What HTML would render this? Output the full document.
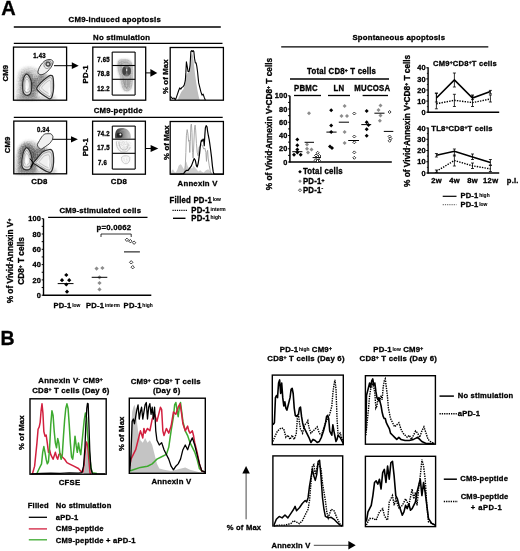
<!DOCTYPE html>
<html><head><meta charset="utf-8"><style>
html,body{margin:0;padding:0;background:#fff;width:520px;height:551px;overflow:hidden}
svg{display:block;filter:blur(0.3px);font-family:"Liberation Sans",sans-serif}
text{stroke:#000;stroke-width:0.3px}
</style></head><body>
<svg width="520" height="551" viewBox="0 0 520 551">
<defs>
<filter id="bl" x="-50%" y="-50%" width="200%" height="200%"><feGaussianBlur stdDeviation="1.5"/></filter>
<filter id="bl2" x="-50%" y="-50%" width="200%" height="200%"><feGaussianBlur stdDeviation="0.7"/></filter>
<filter id="bl3" x="-50%" y="-50%" width="200%" height="200%"><feGaussianBlur stdDeviation="2.5"/></filter>
<filter id="hz" x="-30%" y="-30%" width="160%" height="160%"><feGaussianBlur in="SourceGraphic" stdDeviation="1.6" result="b"/><feTurbulence type="fractalNoise" baseFrequency="0.75" numOctaves="2" seed="7" result="n"/><feColorMatrix in="n" type="matrix" values="0 0 0 0 0  0 0 0 0 0  0 0 0 0 0  0 0 0 1.5 -0.2" result="a"/><feComposite in="b" in2="a" operator="in"/></filter>
</defs>
<rect width="520" height="551" fill="#fff"/>
<text transform="translate(1.3,14.8) scale(1,1.0)" font-size="20.0" text-anchor="start" font-weight="bold" >A</text>
<text transform="translate(114.8,21.8) scale(1,1.02)" font-size="7.8" text-anchor="middle" font-weight="bold"  letter-spacing="0.22">CM9-induced apoptosis</text>
<line x1="13.8" y1="27.0" x2="220.8" y2="27.0" stroke="#000" stroke-width="1.3" />
<text transform="translate(121.6,39.5) scale(1,1.02)" font-size="7.8" text-anchor="middle" font-weight="bold"  letter-spacing="0.22">No stimulation</text>
<line x1="13.8" y1="43.4" x2="222.5" y2="43.4" stroke="#000" stroke-width="1.3" />
<path d="M19,72 C23,66 32,66 38,70 C44,74 46,77 42,82 C38,88 37,95 40,100 L17,100 C16,90 17,80 19,72 Z" fill="#888" opacity="0.23" filter="url(#bl)"/>
<path d="M19,72 C23,66 32,66 38,70 C44,74 46,77 42,82 C38,88 37,95 40,100 L17,100 C16,90 17,80 19,72 Z" fill="#888" opacity="0.35" filter="url(#hz)"/>
<path d="M21,79 C22,71 31,70 33,76 C35,82 37,92 35,99 L21,99 Z" fill="#333" opacity="0.27" filter="url(#bl)"/>
<path d="M21,79 C22,71 31,70 33,76 C35,82 37,92 35,99 L21,99 Z" fill="#333" opacity="0.42" filter="url(#hz)"/>
<path d="M31,82 C36,75 44,72 48,75 L37,93 Z" fill="#444" opacity="0.27" filter="url(#bl)"/>
<path d="M31,82 C36,75 44,72 48,75 L37,93 Z" fill="#444" opacity="0.42" filter="url(#hz)"/>
<path d="M16,96 L56,96 L56,100 L16,100 Z" fill="#999" opacity="0.25" filter="url(#bl)"/>
<path d="M16,96 L56,96 L56,100 L16,100 Z" fill="#999" opacity="0.39" filter="url(#hz)"/>
<path d="M26.70,74.20 C27.35,74.20 28.03,74.72 28.70,75.60 C29.37,76.48 30.20,77.93 30.70,79.50 C31.20,81.07 31.60,83.07 31.70,85.00 C31.80,86.93 31.67,89.50 31.30,91.10 C30.93,92.70 30.43,93.95 29.50,94.60 C28.57,95.25 26.75,95.43 25.70,95.00 C24.65,94.57 23.72,93.63 23.20,92.00 C22.68,90.37 22.58,87.28 22.60,85.20 C22.62,83.12 22.93,81.10 23.30,79.50 C23.67,77.90 24.23,76.48 24.80,75.60 C25.37,74.72 26.05,74.20 26.70,74.20 Z" fill="#dadada" stroke="#2e2e2e" stroke-width="1.2"/>
<path d="M26.80,76.72 C27.29,76.72 27.80,77.11 28.30,77.77 C28.80,78.44 29.43,79.53 29.80,80.70 C30.18,81.88 30.48,83.38 30.55,84.83 C30.63,86.28 30.53,88.20 30.25,89.40 C29.98,90.60 29.60,91.54 28.90,92.02 C28.20,92.51 26.84,92.65 26.05,92.33 C25.26,92.00 24.56,91.30 24.18,90.08 C23.79,88.85 23.71,86.54 23.73,84.97 C23.74,83.41 23.98,81.90 24.25,80.70 C24.53,79.50 24.95,78.44 25.38,77.77 C25.80,77.11 26.31,76.72 26.80,76.72 Z" fill="#e6e6e6" stroke="#6a6a6a" stroke-width="0.6"/>
<path d="M26.90,79.25 C27.23,79.25 27.57,79.51 27.90,79.95 C28.24,80.39 28.65,81.12 28.90,81.90 C29.15,82.68 29.35,83.68 29.40,84.65 C29.45,85.62 29.39,86.90 29.20,87.70 C29.02,88.50 28.77,89.12 28.30,89.45 C27.84,89.77 26.93,89.87 26.40,89.65 C25.88,89.43 25.41,88.97 25.15,88.15 C24.90,87.33 24.85,85.79 24.85,84.75 C24.86,83.71 25.02,82.70 25.20,81.90 C25.39,81.10 25.67,80.39 25.95,79.95 C26.24,79.51 26.58,79.25 26.90,79.25 Z" fill="#f2f2f2" stroke="#8a8a8a" stroke-width="0.5"/>
<path d="M36.70,88.50 C36.79,87.31 39.72,83.88 40.90,82.60 C42.08,81.32 45.71,78.34 46.80,77.50 C47.88,76.66 49.56,75.60 50.20,75.40 C50.84,75.20 51.95,75.45 52.30,75.80 C52.65,76.15 53.05,77.30 53.20,78.40 C53.35,79.50 53.60,83.62 53.60,85.20 C53.60,86.78 53.45,90.43 53.20,91.90 C52.96,93.37 51.94,96.98 51.50,97.80 C51.06,98.62 50.15,99.08 49.40,98.90 C48.65,98.73 46.19,97.01 45.10,96.30 C44.02,95.59 41.08,93.71 40.10,92.80 C39.12,91.89 36.61,89.69 36.70,88.50 Z" fill="#e0e0e0" stroke="#2e2e2e" stroke-width="1.25"/>
<path d="M38.91,88.15 C38.98,87.20 41.33,84.46 42.27,83.43 C43.21,82.40 46.12,80.02 46.99,79.35 C47.86,78.68 49.20,77.83 49.71,77.67 C50.22,77.51 51.11,77.71 51.39,77.99 C51.67,78.27 51.99,79.19 52.11,80.07 C52.23,80.95 52.43,84.25 52.43,85.51 C52.43,86.77 52.31,89.70 52.11,90.87 C51.91,92.05 51.10,94.94 50.75,95.59 C50.40,96.25 49.67,96.61 49.07,96.47 C48.47,96.33 46.50,94.96 45.63,94.39 C44.76,93.82 42.41,92.32 41.63,91.59 C40.85,90.86 38.84,89.10 38.91,88.15 Z" fill="#e8e8e8" stroke="#777" stroke-width="0.55"/>
<path d="M41.67,87.72 C41.72,87.06 43.33,85.18 43.98,84.47 C44.63,83.77 46.63,82.13 47.23,81.67 C47.82,81.20 48.74,80.62 49.10,80.51 C49.45,80.40 50.06,80.54 50.25,80.73 C50.45,80.92 50.66,81.56 50.75,82.16 C50.83,82.76 50.97,85.03 50.97,85.90 C50.97,86.77 50.88,88.78 50.75,89.59 C50.61,90.39 50.06,92.38 49.81,92.83 C49.57,93.28 49.07,93.53 48.66,93.44 C48.25,93.34 46.89,92.40 46.29,92.01 C45.70,91.61 44.08,90.58 43.54,90.08 C43.00,89.58 41.62,88.37 41.67,87.72 Z" fill="#f0f0f0" stroke="#999" stroke-width="0.5"/>
<path d="M37.90,71.90 C37.80,73.03 38.20,73.55 38.90,74.00 C39.60,74.45 40.77,74.95 42.10,74.60 C43.43,74.25 45.40,73.13 46.90,71.90 C48.40,70.67 50.08,68.70 51.10,67.20 C52.12,65.70 52.73,63.97 53.00,62.90 C53.27,61.83 53.20,61.37 52.70,60.80 C52.20,60.23 51.15,59.58 50.00,59.50 C48.85,59.42 47.03,59.73 45.80,60.30 C44.57,60.87 43.65,61.75 42.60,62.90 C41.55,64.05 40.28,65.70 39.50,67.20 C38.72,68.70 38.00,70.77 37.90,71.90 Z" fill="#f0f0f0" stroke="#2a2a2a" stroke-width="0.9"/>
<path d="M44.50,63.00 C45.00,62.17 46.03,61.33 47.00,61.00 C47.97,60.67 49.58,60.58 50.30,61.00 C51.02,61.42 51.35,62.58 51.30,63.50 C51.25,64.42 50.63,65.67 50.00,66.50 C49.37,67.33 48.25,68.25 47.50,68.50 C46.75,68.75 46.08,68.42 45.50,68.00 C44.92,67.58 44.17,66.83 44.00,66.00 C43.83,65.17 44.00,63.83 44.50,63.00 Z" fill="#e6e6e6" stroke="#555" stroke-width="0.6"/>
<circle cx="48.0" cy="64.1" r="2.2" fill="#777" stroke="#222" stroke-width="0.9"/>
<circle cx="48.0" cy="64.1" r="0.9" fill="#fff"/>
<ellipse cx="26.6" cy="88.5" rx="0.9" ry="3.2" fill="#fff"/>
<ellipse cx="49.4" cy="91.5" rx="0.9" ry="4.2" fill="#fafafa"/>
<rect x="13.5" y="47.1" width="53.10" height="53.10" fill="none" stroke="#000" stroke-width="1.3"/>
<text transform="translate(39.5,57.5) scale(1,1.2)" font-size="6.0" text-anchor="middle" font-weight="bold"  letter-spacing="0.22">1.43</text>
<text transform="translate(7.8,73.2) rotate(-90) scale(1,1.02)" font-size="7.8" text-anchor="middle" font-weight="bold"  letter-spacing="0.11">CM9</text>
<line x1="54.0" y1="65.7" x2="72.3" y2="65.7" stroke="#000" stroke-width="1.0" />
<polygon points="71.8,62.300000000000004 78.7,65.7 71.8,69.10000000000001" fill="#000"/>
<path d="M118.5,61 C117.3,66 118.5,72 120.5,76 C121.5,80 121.5,86 123.5,89 C125,91.5 129,91.5 130.8,88.5 C132.5,84 132.3,78 132.3,74 C132.5,69 132.3,65 131,62.5 C129.5,60 126,59.5 123,60 C121,60 119.3,60 118.5,61 Z" fill="#909090" opacity="0.5" filter="url(#bl)"/>
<path d="M118.5,61 C117.3,66 118.5,72 120.5,76 C121.5,80 121.5,86 123.5,89 C125,91.5 129,91.5 130.8,88.5 C132.5,84 132.3,78 132.3,74 C132.5,69 132.3,65 131,62.5 C129.5,60 126,59.5 123,60 C121,60 119.3,60 118.5,61 Z" fill="#808080" opacity="0.6" filter="url(#hz)"/>
<path d="M118.5,61 C117.3,66 118.5,72 120.5,76 C121.5,80 121.5,86 123.5,89 C125,91.5 129,91.5 130.8,88.5 C132.5,84 132.3,78 132.3,74 C132.5,69 132.3,65 131,62.5 C129.5,60 126,59.5 123,60 C121,60 119.3,60 118.5,61 Z" fill="none" stroke="#aaa" stroke-width="0.6"/>
<path d="M120,62 C118.5,63 118.8,66 121,66.5 C123,66 122.5,62.5 120,62 Z" fill="none" stroke="#999" stroke-width="0.6"/>
<path d="M121.5,64 C120.5,69 121.5,74 123,77 C124,82 124.5,87 126.5,88 C128.8,88.5 130,84 130.2,79 C130.5,73 131,67 129.5,64 C127.5,62 123,62 121.5,64 Z" fill="#c4c4c4" opacity="0.6" stroke="#8a8a8a" stroke-width="0.6"/>
<g filter="url(#bl2)"><ellipse cx="126.5" cy="71" rx="4.6" ry="5.6" fill="#6a6a6a" opacity="0.85"/><ellipse cx="124.4" cy="71" rx="1.9" ry="4" fill="#3a3a3a" opacity="0.85"/><ellipse cx="128.9" cy="71" rx="1.8" ry="3.8" fill="#444" opacity="0.85"/></g>
<ellipse cx="126.7" cy="70" rx="0.6" ry="1.3" fill="#e8e8e8"/>
<path d="M124,79 C124,84 125,87.5 126.5,87.5 C128,87.5 128.8,84 128.8,79 M125.6,80 L125.6,85.5 M127.4,80 L127.4,85.5" fill="none" stroke="#8a8a8a" stroke-width="0.6"/>
<rect x="92.8" y="47.1" width="52.90" height="53.10" fill="none" stroke="#000" stroke-width="1.3"/>
<line x1="112.2" y1="52.1" x2="135.1" y2="52.1" stroke="#000" stroke-width="1.1" />
<line x1="112.2" y1="65.5" x2="135.1" y2="65.5" stroke="#000" stroke-width="1.1" />
<line x1="112.2" y1="79.3" x2="135.1" y2="79.3" stroke="#000" stroke-width="1.1" />
<line x1="112.2" y1="95.1" x2="135.1" y2="95.1" stroke="#000" stroke-width="1.1" />
<line x1="112.2" y1="52.1" x2="112.2" y2="95.1" stroke="#000" stroke-width="1.1" />
<line x1="135.1" y1="52.1" x2="135.1" y2="95.1" stroke="#000" stroke-width="1.1" />
<text transform="translate(103.5,62.4) scale(1,1.2)" font-size="6.0" text-anchor="middle" font-weight="bold"  letter-spacing="0.22">7.65</text>
<text transform="translate(103.5,75.7) scale(1,1.2)" font-size="6.0" text-anchor="middle" font-weight="bold"  letter-spacing="0.22">78.8</text>
<text transform="translate(103.5,91.1) scale(1,1.2)" font-size="6.0" text-anchor="middle" font-weight="bold"  letter-spacing="0.22">12.2</text>
<text transform="translate(88.2,74.3) rotate(-90) scale(1,1.02)" font-size="7.8" text-anchor="middle" font-weight="bold"  letter-spacing="0.11">PD-1</text>
<line x1="145.7" y1="72.9" x2="150.9" y2="72.9" stroke="#000" stroke-width="1.0" />
<polygon points="150.4,69.0 157.3,72.9 150.4,76.80000000000001" fill="#000"/>
<polygon points="177.81,100.21 178.60,97.42 179.71,95.19 181.38,91.84 183.61,89.06 184.95,84.04 186.07,75.67 187.52,72.88 189.19,72.33 190.31,65.08 191.20,55.04 192.09,52.81 193.09,56.15 194.21,67.31 195.33,76.23 196.44,84.04 197.56,90.73 198.67,96.30 199.79,100.21" fill="#bdbdbd"/>
<polyline points="170.45,96.30 171.35,97.42 172.46,98.54 174.13,97.98 175.25,99.65 176.36,97.42 177.48,94.07 178.60,90.73 179.71,87.94 180.83,89.06 181.94,87.38 183.06,86.82 184.17,85.15 185.29,80.69 185.85,72.88 186.40,61.73 187.18,66.19 188.08,71.77 189.19,71.21 190.08,65.08 190.86,51.69 191.64,50.58 192.54,51.69 193.09,50.58 193.88,51.69 194.54,58.38 195.33,62.85 196.11,62.85 196.78,66.19 197.56,71.77 198.11,77.34 198.67,82.92 199.79,87.38 200.90,91.84 202.02,95.19 203.13,94.07 204.25,97.42 205.36,100.21" fill="none" stroke="#000" stroke-width="1.1" stroke-linejoin="round"/>
<rect x="170.2" y="47.5" width="53.20" height="52.70" fill="none" stroke="#000" stroke-width="1.3"/>
<text transform="translate(168.2,76.7) rotate(-90) scale(1,1.02)" font-size="7.8" text-anchor="middle" font-weight="bold"  letter-spacing="0.11">% of Max</text>
<text transform="translate(118.2,113.1) scale(1,1.02)" font-size="7.8" text-anchor="middle" font-weight="bold"  letter-spacing="0.22">CM9-peptide</text>
<line x1="13.8" y1="117.4" x2="222.7" y2="117.4" stroke="#000" stroke-width="1.3" />
<path d="M18,150 C21,140 31,138 38,144 C44,148 47,151 42,157 C37,163 36,169 38,174 L16,174 C15,165 16,156 18,150 Z" fill="#888" opacity="0.25" filter="url(#bl)"/>
<path d="M18,150 C21,140 31,138 38,144 C44,148 47,151 42,157 C37,163 36,169 38,174 L16,174 C15,165 16,156 18,150 Z" fill="#888" opacity="0.39" filter="url(#hz)"/>
<path d="M19,151 C21,142 31,141 34,148 C36,156 37,166 35,173 L19,173 Z" fill="#2a2a2a" opacity="0.32" filter="url(#bl)"/>
<path d="M19,151 C21,142 31,141 34,148 C36,156 37,166 35,173 L19,173 Z" fill="#2a2a2a" opacity="0.49" filter="url(#hz)"/>
<path d="M31,153 C36,147 44,146 48,149 L37,165 Z" fill="#383838" opacity="0.32" filter="url(#bl)"/>
<path d="M31,153 C36,147 44,146 48,149 L37,165 Z" fill="#383838" opacity="0.49" filter="url(#hz)"/>
<path d="M16,169 L56,169 L56,174 L16,174 Z" fill="#999" opacity="0.27" filter="url(#bl)"/>
<path d="M16,169 L56,169 L56,174 L16,174 Z" fill="#999" opacity="0.42" filter="url(#hz)"/>
<path d="M26.80,147.60 C27.57,147.87 28.77,149.08 29.60,150.80 C30.43,152.52 31.40,155.45 31.80,157.90 C32.20,160.35 32.32,163.65 32.00,165.50 C31.68,167.35 30.95,168.28 29.90,169.00 C28.85,169.72 26.97,170.10 25.70,169.80 C24.43,169.50 22.93,168.75 22.30,167.20 C21.67,165.65 21.75,162.83 21.90,160.50 C22.05,158.17 22.68,155.08 23.20,153.20 C23.72,151.32 24.40,150.13 25.00,149.20 C25.60,148.27 26.03,147.33 26.80,147.60 Z" fill="#dadada" stroke="#2e2e2e" stroke-width="1.2"/>
<path d="M26.80,150.47 C27.38,150.67 28.28,151.58 28.91,152.87 C29.53,154.16 30.25,156.35 30.55,158.19 C30.86,160.03 30.94,162.50 30.70,163.89 C30.47,165.28 29.92,165.98 29.13,166.52 C28.34,167.05 26.93,167.34 25.98,167.12 C25.03,166.89 23.91,166.33 23.43,165.17 C22.95,164.00 23.02,161.89 23.13,160.14 C23.24,158.39 23.72,156.08 24.11,154.67 C24.49,153.25 25.00,152.37 25.45,151.67 C25.90,150.97 26.23,150.27 26.80,150.47 Z" fill="#e6e6e6" stroke="#6a6a6a" stroke-width="0.6"/>
<path d="M26.81,153.33 C27.19,153.47 27.79,154.08 28.21,154.94 C28.63,155.79 29.11,157.26 29.31,158.49 C29.51,159.71 29.57,161.36 29.41,162.28 C29.25,163.21 28.88,163.68 28.36,164.03 C27.84,164.39 26.89,164.59 26.26,164.44 C25.63,164.28 24.88,163.91 24.56,163.13 C24.24,162.36 24.29,160.95 24.36,159.78 C24.43,158.62 24.75,157.08 25.01,156.13 C25.27,155.19 25.61,154.60 25.91,154.13 C26.21,153.67 26.43,153.20 26.81,153.33 Z" fill="#f2f2f2" stroke="#8a8a8a" stroke-width="0.5"/>
<path d="M33.30,163.00 C33.44,162.28 35.91,159.78 37.00,158.50 C38.09,157.22 41.15,153.05 42.60,152.00 C44.05,150.95 48.31,149.70 49.40,149.50 C50.48,149.30 51.46,149.81 51.90,150.30 C52.34,150.79 53.00,152.32 53.20,153.70 C53.40,155.08 53.71,160.22 53.60,162.10 C53.49,163.98 52.70,168.61 52.30,169.80 C51.90,170.99 50.84,172.10 50.20,172.30 C49.56,172.50 47.88,171.99 46.80,171.50 C45.71,171.01 42.18,168.89 40.90,168.10 C39.62,167.31 36.69,165.29 35.80,164.70 C34.91,164.10 33.16,163.72 33.30,163.00 Z" fill="#e0e0e0" stroke="#2e2e2e" stroke-width="1.25"/>
<path d="M35.76,162.66 C35.87,162.08 37.85,160.09 38.72,159.06 C39.58,158.03 42.04,154.70 43.20,153.86 C44.35,153.02 47.77,152.02 48.64,151.86 C49.50,151.70 50.28,152.11 50.64,152.50 C50.99,152.89 51.52,154.12 51.68,155.22 C51.84,156.32 52.08,160.44 52.00,161.94 C51.91,163.44 51.27,167.15 50.96,168.10 C50.64,169.05 49.79,169.94 49.28,170.10 C48.76,170.26 47.42,169.85 46.56,169.46 C45.69,169.07 42.86,167.37 41.84,166.74 C40.81,166.10 38.47,164.49 37.76,164.02 C37.05,163.54 35.64,163.24 35.76,162.66 Z" fill="#e8e8e8" stroke="#777" stroke-width="0.55"/>
<path d="M38.83,162.23 C38.90,161.83 40.27,160.46 40.86,159.76 C41.46,159.05 43.15,156.76 43.94,156.18 C44.74,155.60 47.09,154.92 47.68,154.81 C48.28,154.70 48.81,154.98 49.06,155.25 C49.30,155.52 49.66,156.36 49.77,157.12 C49.88,157.87 50.05,160.70 49.99,161.74 C49.93,162.77 49.50,165.32 49.28,165.97 C49.06,166.63 48.48,167.24 48.12,167.35 C47.77,167.46 46.85,167.18 46.25,166.91 C45.66,166.64 43.71,165.47 43.01,165.04 C42.30,164.60 40.69,163.49 40.20,163.17 C39.71,162.84 38.75,162.63 38.83,162.23 Z" fill="#f0f0f0" stroke="#999" stroke-width="0.5"/>
<path d="M37.40,144.30 C37.10,145.19 38.07,146.80 38.40,147.20 C38.73,147.60 40.39,149.38 41.30,149.10 C42.21,148.82 48.38,144.58 49.30,143.80 C50.22,143.02 52.10,140.31 52.40,139.70 C52.70,139.09 53.02,136.99 52.90,136.50 C52.77,136.01 51.54,134.02 50.90,133.80 C50.26,133.58 45.94,133.68 45.20,133.90 C44.46,134.12 42.65,135.63 42.00,136.50 C41.35,137.37 37.70,143.41 37.40,144.30 Z" fill="#f0f0f0" stroke="#2a2a2a" stroke-width="0.9"/>
<line x1="33.3" y1="163" x2="30.5" y2="167.5" stroke="#000" stroke-width="1.3" />
<line x1="33.3" y1="163" x2="30" y2="158.5" stroke="#000" stroke-width="1.0" />
<ellipse cx="26.5" cy="161.5" rx="0.9" ry="3.6" fill="#fff"/>
<ellipse cx="48.5" cy="163.5" rx="0.9" ry="4" fill="#fafafa"/>
<rect x="13.8" y="121.1" width="52.80" height="52.70" fill="none" stroke="#000" stroke-width="1.3"/>
<text transform="translate(43.2,131.5) scale(1,1.2)" font-size="6.0" text-anchor="middle" font-weight="bold"  letter-spacing="0.22">0.34</text>
<text transform="translate(10.0,144.9) rotate(-90) scale(1,1.02)" font-size="7.8" text-anchor="middle" font-weight="bold"  letter-spacing="0.11">CM9</text>
<line x1="52.5" y1="139.3" x2="71.5" y2="139.3" stroke="#000" stroke-width="1.0" />
<polygon points="71,136.20000000000002 77.9,139.3 71,142.4" fill="#000"/>
<text transform="translate(39.4,183.9) scale(1,1.02)" font-size="7.8" text-anchor="middle" font-weight="bold"  letter-spacing="0.22">CD8</text>
<path d="M116.2,141 C115.5,146 118,151 122,152.5 C126,153 130,151 130.7,147 C131,143 129,140.5 125,140 C121,139.6 117,139.8 116.2,141 Z" fill="#aaa" opacity="0.45" filter="url(#hz)"/>
<path d="M116.5,141.5 C116,146 118,150.5 122,152 C126,152.5 129.5,150.5 130.2,147 M119,142 C119,146 121,150 124,150 C127,150 128.5,147 128,143.5" fill="none" stroke="#a8a8a8" stroke-width="0.6"/>
<path d="M121.6,157 C121,161 123.5,163.7 126,163.7 C128.5,163.7 130,161 129.8,157.5 C129,155.5 124,155 121.6,157 Z" fill="#bbb" opacity="0.4" filter="url(#hz)"/>
<path d="M121.6,157 C121,161 123.5,163.7 126,163.7 C128.5,163.7 130,161 129.8,157.5 C129,155.5 124,155 121.6,157 Z" fill="none" stroke="#b4b4b4" stroke-width="0.6"/>
<defs><linearGradient id="dome" x1="0" y1="0" x2="1" y2="0"><stop offset="0" stop-color="#3a3a3a"/><stop offset="0.3" stop-color="#606060"/><stop offset="0.62" stop-color="#999"/><stop offset="1" stop-color="#cfcfcf"/></linearGradient></defs>
<g filter="url(#bl2)"><path d="M115.3,138.6 C114.8,134 115.2,131 118,128.8 C121,127.5 125,127.6 127.9,130 C130.5,132.5 131.2,135.5 131.1,138.6 Z" fill="url(#dome)"/></g>
<path d="M119,133 C120,130.5 124,129.8 127,131.5 C129,133 129.6,136 129.3,138.3" fill="none" stroke="#aaa" stroke-width="0.5"/>
<g filter="url(#bl2)"><ellipse cx="119.6" cy="135" rx="3" ry="2.6" fill="#1a1a1a" opacity="0.85"/></g>
<circle cx="120.4" cy="134.6" r="1.0" fill="#fff"/>
<rect x="92.6" y="121.2" width="52.80" height="53.00" fill="none" stroke="#000" stroke-width="1.3"/>
<line x1="112.3" y1="126.1" x2="135.2" y2="126.1" stroke="#000" stroke-width="1.1" />
<line x1="112.3" y1="139.2" x2="135.2" y2="139.2" stroke="#000" stroke-width="1.1" />
<line x1="112.3" y1="153.3" x2="135.2" y2="153.3" stroke="#000" stroke-width="1.1" />
<line x1="112.3" y1="169.1" x2="135.2" y2="169.1" stroke="#000" stroke-width="1.1" />
<line x1="112.3" y1="126.1" x2="112.3" y2="169.1" stroke="#000" stroke-width="1.1" />
<line x1="135.2" y1="126.1" x2="135.2" y2="169.1" stroke="#000" stroke-width="1.1" />
<text transform="translate(103.5,136.4) scale(1,1.2)" font-size="6.0" text-anchor="middle" font-weight="bold"  letter-spacing="0.22">74.2</text>
<text transform="translate(103.5,150.3) scale(1,1.2)" font-size="6.0" text-anchor="middle" font-weight="bold"  letter-spacing="0.22">17.5</text>
<text transform="translate(102.5,164.9) scale(1,1.2)" font-size="6.0" text-anchor="middle" font-weight="bold"  letter-spacing="0.22">7.6</text>
<text transform="translate(88.2,147.1) rotate(-90) scale(1,1.02)" font-size="7.8" text-anchor="middle" font-weight="bold"  letter-spacing="0.11">PD-1</text>
<line x1="145.4" y1="148.5" x2="151.1" y2="148.5" stroke="#000" stroke-width="1.0" />
<polygon points="150.6,145.1 158.3,148.5 150.6,151.9" fill="#000"/>
<text transform="translate(118.9,184.1) scale(1,1.02)" font-size="7.8" text-anchor="middle" font-weight="bold"  letter-spacing="0.22">CD8</text>
<polygon points="170.45,174.21 171.90,170.30 173.02,169.19 174.13,171.42 175.81,172.54 177.48,169.19 178.60,165.84 179.71,164.73 180.83,164.17 181.94,165.84 183.06,168.07 184.17,169.19 185.29,163.61 186.40,161.38 187.52,165.84 188.63,168.07 190.31,166.96 191.98,168.63 193.65,165.84 195.33,168.07 197.00,169.75 198.11,171.42 200.34,170.30 201.46,171.42 203.69,172.54 205.92,170.30 208.15,169.19 210.38,171.42 212.61,173.65 214.84,174.21" fill="#cdcdcd"/>
<polyline points="184.73,174.21 185.29,165.84 185.85,152.46 186.40,135.73 187.18,129.60 187.85,133.50 188.63,141.31 189.19,140.19 189.75,152.46 190.31,141.31 190.86,125.69 191.42,124.02 191.98,132.38 192.54,152.46 193.09,158.04 193.65,148.00 194.54,127.92 195.10,125.13 195.66,130.15 196.44,143.54 197.22,152.46 198.11,155.81 199.23,146.88 200.34,146.88 201.46,144.65 202.58,145.77 203.69,149.11 204.81,148.00 205.92,152.46 206.48,161.38 207.04,152.46 207.59,150.23 208.15,158.04 209.27,165.84 210.38,171.42 211.50,174.21" fill="none" stroke="#a0a0a0" stroke-width="0.9" stroke-linejoin="round"/>
<polyline points="170.45,174.21 179.15,174.21 183.61,173.65 184.73,171.98 186.40,170.30 188.08,170.30 189.75,168.07 191.42,165.84 193.09,161.38 194.21,158.59 195.33,160.27 196.44,165.84 197.22,166.96 198.11,163.61 198.67,160.27 199.56,153.58 200.34,145.77 200.90,142.42 201.46,140.19 202.02,141.31 203.13,139.08 203.69,140.19 204.25,145.77 204.81,135.73 205.36,127.92 206.14,125.69 207.04,126.81 207.59,131.27 208.37,135.73 209.27,140.19 210.38,148.00 211.50,156.92 212.39,165.84 213.17,171.42 213.73,173.65 214.84,174.21 223.43,174.21" fill="none" stroke="#000" stroke-width="1.2" stroke-linejoin="round"/>
<rect x="170.2" y="121.5" width="53.20" height="52.70" fill="none" stroke="#000" stroke-width="1.3"/>
<text transform="translate(169.3,142.6) rotate(-90) scale(1,1.02)" font-size="7.8" text-anchor="middle" font-weight="bold"  letter-spacing="0.11">% of Max</text>
<text transform="translate(197.6,185.8) scale(1,1.02)" font-size="7.8" text-anchor="middle" font-weight="bold"  letter-spacing="0.22">Annexin V</text>
<text transform="translate(169.4,203.3) scale(1,1.18)" font-size="7.8" text-anchor="start" font-weight="bold"  letter-spacing="0.22">Filled PD-1<tspan dx="0.6" baseline-shift="1.5" font-size="4.9" letter-spacing="0.05" style="stroke-width:0.1px">low</tspan></text>
<line x1="172.5" y1="210.4" x2="187.7" y2="210.4" stroke="#000" stroke-width="1.4" stroke-dasharray="1.2,1.0"/>
<text transform="translate(191.3,212.8) scale(1,1.18)" font-size="7.8" text-anchor="start" font-weight="bold"  letter-spacing="0.22">PD-1<tspan dx="0.6" baseline-shift="1.5" font-size="4.9" letter-spacing="0.05" style="stroke-width:0.1px">interm</tspan></text>
<line x1="173" y1="218.3" x2="185.5" y2="218.3" stroke="#000" stroke-width="1.4" />
<text transform="translate(191.3,221.0) scale(1,1.18)" font-size="7.8" text-anchor="start" font-weight="bold"  letter-spacing="0.22">PD-1<tspan dx="0.6" baseline-shift="1.5" font-size="4.9" letter-spacing="0.05" style="stroke-width:0.1px">high</tspan></text>
<text transform="translate(100.3,213.3) scale(1,1.02)" font-size="7.8" text-anchor="middle" font-weight="bold"  letter-spacing="0.22">CM9-stimulated cells</text>
<line x1="48.1" y1="217.4" x2="147.5" y2="217.4" stroke="#000" stroke-width="1.3" />
<line x1="43.5" y1="218.6" x2="43.5" y2="295.8" stroke="#000" stroke-width="1.4" />
<line x1="42.9" y1="295.2" x2="151.3" y2="295.2" stroke="#000" stroke-width="1.4" />
<line x1="41.7" y1="295.2" x2="43.5" y2="295.2" stroke="#000" stroke-width="1.0" />
<text transform="translate(41.2,297.9) scale(1,1.02)" font-size="7.4" text-anchor="end" font-weight="bold"  letter-spacing="0.22">0</text>
<line x1="41.7" y1="287.55" x2="43.5" y2="287.55" stroke="#000" stroke-width="1.0" />
<line x1="41.7" y1="279.9" x2="43.5" y2="279.9" stroke="#000" stroke-width="1.0" />
<text transform="translate(41.2,282.59999999999997) scale(1,1.02)" font-size="7.4" text-anchor="end" font-weight="bold"  letter-spacing="0.22">20</text>
<line x1="41.7" y1="272.25" x2="43.5" y2="272.25" stroke="#000" stroke-width="1.0" />
<line x1="41.7" y1="264.59999999999997" x2="43.5" y2="264.59999999999997" stroke="#000" stroke-width="1.0" />
<text transform="translate(41.2,267.29999999999995) scale(1,1.02)" font-size="7.4" text-anchor="end" font-weight="bold"  letter-spacing="0.22">40</text>
<line x1="41.7" y1="256.95" x2="43.5" y2="256.95" stroke="#000" stroke-width="1.0" />
<line x1="41.7" y1="249.29999999999998" x2="43.5" y2="249.29999999999998" stroke="#000" stroke-width="1.0" />
<text transform="translate(41.2,251.99999999999997) scale(1,1.02)" font-size="7.4" text-anchor="end" font-weight="bold"  letter-spacing="0.22">60</text>
<line x1="41.7" y1="241.64999999999998" x2="43.5" y2="241.64999999999998" stroke="#000" stroke-width="1.0" />
<line x1="41.7" y1="234.0" x2="43.5" y2="234.0" stroke="#000" stroke-width="1.0" />
<text transform="translate(41.2,236.7) scale(1,1.02)" font-size="7.4" text-anchor="end" font-weight="bold"  letter-spacing="0.22">80</text>
<line x1="41.7" y1="226.35" x2="43.5" y2="226.35" stroke="#000" stroke-width="1.0" />
<line x1="41.7" y1="218.7" x2="43.5" y2="218.7" stroke="#000" stroke-width="1.0" />
<text transform="translate(41.2,221.39999999999998) scale(1,1.02)" font-size="7.4" text-anchor="end" font-weight="bold"  letter-spacing="0.22">100</text>
<text transform="translate(13.4,261) rotate(-90) scale(1,1.02)" font-size="8.3" text-anchor="middle" font-weight="bold">% of Vivid<tspan baseline-shift="2.2" font-size="5">-</tspan>Annexin V<tspan baseline-shift="2.2" font-size="5">+</tspan></text>
<text transform="translate(23.6,261) rotate(-90) scale(1,1.02)" font-size="8.3" text-anchor="middle" font-weight="bold">CD8<tspan baseline-shift="2.2" font-size="5">+</tspan> T cells</text>
<text transform="translate(113.9,229.6) scale(1,1.02)" font-size="7.8" text-anchor="middle" font-weight="bold"  letter-spacing="0.22">p=0.0062</text>
<polyline points="101,237 101,234 131.2,234 131.2,237" fill="none" stroke="#000" stroke-width="0.8"/>
<polygon points="66.30,272.90 68.40,275.00 66.30,277.10 64.20,275.00" fill="#000" stroke="none" stroke-width="0"/>
<polygon points="62.00,278.10 64.10,280.20 62.00,282.30 59.90,280.20" fill="#000" stroke="none" stroke-width="0"/>
<polygon points="69.20,278.10 71.30,280.20 69.20,282.30 67.10,280.20" fill="#000" stroke="none" stroke-width="0"/>
<polygon points="66.30,282.40 68.40,284.50 66.30,286.60 64.20,284.50" fill="#000" stroke="none" stroke-width="0"/>
<polygon points="67.00,289.60 69.10,291.70 67.00,293.80 64.90,291.70" fill="#000" stroke="none" stroke-width="0"/>
<line x1="57.7" y1="283.6" x2="73.5" y2="283.6" stroke="#000" stroke-width="1.0" />
<polygon points="96.60,266.50 98.70,268.60 96.60,270.70 94.50,268.60" fill="#8c8c8c" stroke="none" stroke-width="0"/>
<polygon points="102.40,265.90 104.50,268.00 102.40,270.10 100.30,268.00" fill="#8c8c8c" stroke="none" stroke-width="0"/>
<polygon points="99.50,275.20 101.60,277.30 99.50,279.40 97.40,277.30" fill="#8c8c8c" stroke="none" stroke-width="0"/>
<polygon points="99.50,280.90 101.60,283.00 99.50,285.10 97.40,283.00" fill="#8c8c8c" stroke="none" stroke-width="0"/>
<polygon points="99.50,287.30 101.60,289.40 99.50,291.50 97.40,289.40" fill="#8c8c8c" stroke="none" stroke-width="0"/>
<line x1="91.7" y1="277.3" x2="107.3" y2="277.3" stroke="#000" stroke-width="1.0" />
<polygon points="126.90,238.10 128.60,239.80 126.90,241.50 125.20,239.80" fill="#fff" stroke="#000" stroke-width="0.75"/>
<polygon points="130.40,239.50 132.10,241.20 130.40,242.90 128.70,241.20" fill="#fff" stroke="#000" stroke-width="0.75"/>
<polygon points="134.10,241.00 135.80,242.70 134.10,244.40 132.40,242.70" fill="#fff" stroke="#000" stroke-width="0.75"/>
<polygon points="131.20,260.60 132.90,262.30 131.20,264.00 129.50,262.30" fill="#fff" stroke="#000" stroke-width="0.75"/>
<polygon points="132.70,265.50 134.40,267.20 132.70,268.90 131.00,267.20" fill="#fff" stroke="#000" stroke-width="0.75"/>
<line x1="124" y1="251.9" x2="139.9" y2="251.9" stroke="#000" stroke-width="1.0" />
<text transform="translate(53.4,308.1) scale(1,1.02)" font-size="7.6" text-anchor="start" font-weight="bold"  letter-spacing="0.22">PD-1<tspan dx="0.6" baseline-shift="1.5" font-size="4.9" letter-spacing="0.05" style="stroke-width:0.1px">low</tspan></text>
<text transform="translate(86,308.1) scale(1,1.02)" font-size="7.6" text-anchor="start" font-weight="bold"  letter-spacing="0.22">PD-1<tspan dx="0.6" baseline-shift="1.5" font-size="4.9" letter-spacing="0.05" style="stroke-width:0.1px">interm</tspan></text>
<text transform="translate(123.6,308.1) scale(1,1.02)" font-size="7.6" text-anchor="start" font-weight="bold"  letter-spacing="0.22">PD-1<tspan dx="0.6" baseline-shift="1.5" font-size="4.9" letter-spacing="0.05" style="stroke-width:0.1px">high</tspan></text>
<text transform="translate(398.8,39.6) scale(1,1.02)" font-size="7.8" text-anchor="middle" font-weight="bold"  letter-spacing="0.22">Spontaneous apoptosis</text>
<line x1="281.2" y1="46.8" x2="488.3" y2="46.8" stroke="#000" stroke-width="1.3" />
<text transform="translate(272.0,124) rotate(-90) scale(1,1.02)" font-size="8.3" text-anchor="middle" font-weight="bold">% of Vivid<tspan baseline-shift="2.2" font-size="5">-</tspan>Annexin V<tspan baseline-shift="2.2" font-size="5">+</tspan>CD8<tspan baseline-shift="2.2" font-size="5">+</tspan> T cells</text>
<text transform="translate(341.6,74.3) scale(1,1.2)" font-size="7.8" text-anchor="middle" font-weight="bold"  letter-spacing="0.22">Total CD8<tspan baseline-shift="2.2" font-size="5">+</tspan> T cells</text>
<line x1="290" y1="79" x2="389" y2="79" stroke="#000" stroke-width="1.3" />
<text transform="translate(306,90.7) scale(1,1.2)" font-size="7.8" text-anchor="middle" font-weight="bold"  letter-spacing="0.22">PBMC</text>
<text transform="translate(339,90.7) scale(1,1.2)" font-size="7.8" text-anchor="middle" font-weight="bold"  letter-spacing="0.22">LN</text>
<text transform="translate(372.3,90.7) scale(1,1.2)" font-size="7.8" text-anchor="middle" font-weight="bold"  letter-spacing="0.22">MUCOSA</text>
<line x1="294" y1="95.5" x2="321" y2="95.5" stroke="#000" stroke-width="1.3" />
<line x1="328" y1="95.5" x2="350" y2="95.5" stroke="#000" stroke-width="1.3" />
<line x1="362.6" y1="95.5" x2="388" y2="95.5" stroke="#000" stroke-width="1.3" />
<line x1="289.9" y1="95.8" x2="289.9" y2="162.6" stroke="#000" stroke-width="1.5" />
<line x1="289.29999999999995" y1="162" x2="391.8" y2="162" stroke="#000" stroke-width="1.4" />
<line x1="288.09999999999997" y1="162.0" x2="289.9" y2="162.0" stroke="#000" stroke-width="1.0" />
<text transform="translate(287.7,164.6) scale(1,1.02)" font-size="7.4" text-anchor="end" font-weight="bold"  letter-spacing="0.22">0</text>
<line x1="288.09999999999997" y1="155.38" x2="289.9" y2="155.38" stroke="#000" stroke-width="1.0" />
<line x1="288.09999999999997" y1="148.76" x2="289.9" y2="148.76" stroke="#000" stroke-width="1.0" />
<text transform="translate(287.7,151.35999999999999) scale(1,1.02)" font-size="7.4" text-anchor="end" font-weight="bold"  letter-spacing="0.22">20</text>
<line x1="288.09999999999997" y1="142.14" x2="289.9" y2="142.14" stroke="#000" stroke-width="1.0" />
<line x1="288.09999999999997" y1="135.52" x2="289.9" y2="135.52" stroke="#000" stroke-width="1.0" />
<text transform="translate(287.7,138.12) scale(1,1.02)" font-size="7.4" text-anchor="end" font-weight="bold"  letter-spacing="0.22">40</text>
<line x1="288.09999999999997" y1="128.9" x2="289.9" y2="128.9" stroke="#000" stroke-width="1.0" />
<line x1="288.09999999999997" y1="122.28" x2="289.9" y2="122.28" stroke="#000" stroke-width="1.0" />
<text transform="translate(287.7,124.88) scale(1,1.02)" font-size="7.4" text-anchor="end" font-weight="bold"  letter-spacing="0.22">60</text>
<line x1="288.09999999999997" y1="115.66" x2="289.9" y2="115.66" stroke="#000" stroke-width="1.0" />
<line x1="288.09999999999997" y1="109.03999999999999" x2="289.9" y2="109.03999999999999" stroke="#000" stroke-width="1.0" />
<text transform="translate(287.7,111.63999999999999) scale(1,1.02)" font-size="7.4" text-anchor="end" font-weight="bold"  letter-spacing="0.22">80</text>
<line x1="288.09999999999997" y1="102.41999999999999" x2="289.9" y2="102.41999999999999" stroke="#000" stroke-width="1.0" />
<line x1="288.09999999999997" y1="95.8" x2="289.9" y2="95.8" stroke="#000" stroke-width="1.0" />
<text transform="translate(287.7,98.39999999999999) scale(1,1.02)" font-size="7.4" text-anchor="end" font-weight="bold"  letter-spacing="0.22">100</text>
<polygon points="297.30,137.40 299.30,139.40 297.30,141.40 295.30,139.40" fill="#000" stroke="none" stroke-width="0"/>
<polygon points="297.30,143.20 299.30,145.20 297.30,147.20 295.30,145.20" fill="#000" stroke="none" stroke-width="0"/>
<polygon points="297.30,147.60 299.30,149.60 297.30,151.60 295.30,149.60" fill="#000" stroke="none" stroke-width="0"/>
<polygon points="294.00,152.70 296.00,154.70 294.00,156.70 292.00,154.70" fill="#000" stroke="none" stroke-width="0"/>
<polygon points="300.70,152.70 302.70,154.70 300.70,156.70 298.70,154.70" fill="#000" stroke="none" stroke-width="0"/>
<polygon points="297.30,150.50 299.30,152.50 297.30,154.50 295.30,152.50" fill="#000" stroke="none" stroke-width="0"/>
<line x1="292.3" y1="151.7" x2="302.4" y2="151.7" stroke="#000" stroke-width="1.0" />
<polygon points="309.00,111.20 311.00,113.20 309.00,115.20 307.00,113.20" fill="#8c8c8c" stroke="none" stroke-width="0"/>
<polygon points="307.00,142.50 309.00,144.50 307.00,146.50 305.00,144.50" fill="#8c8c8c" stroke="none" stroke-width="0"/>
<polygon points="307.00,146.80 309.00,148.80 307.00,150.80 305.00,148.80" fill="#8c8c8c" stroke="none" stroke-width="0"/>
<polygon points="311.50,147.60 313.50,149.60 311.50,151.60 309.50,149.60" fill="#8c8c8c" stroke="none" stroke-width="0"/>
<polygon points="308.00,150.50 310.00,152.50 308.00,154.50 306.00,152.50" fill="#8c8c8c" stroke="none" stroke-width="0"/>
<line x1="304.6" y1="142.3" x2="314" y2="142.3" stroke="#000" stroke-width="1.0" />
<polygon points="317.70,151.30 319.20,152.80 317.70,154.30 316.20,152.80" fill="#fff" stroke="#000" stroke-width="0.75"/>
<polygon points="316.00,154.00 317.50,155.50 316.00,157.00 314.50,155.50" fill="#fff" stroke="#000" stroke-width="0.75"/>
<polygon points="319.50,154.50 321.00,156.00 319.50,157.50 318.00,156.00" fill="#fff" stroke="#000" stroke-width="0.75"/>
<polygon points="317.70,157.00 319.20,158.50 317.70,160.00 316.20,158.50" fill="#fff" stroke="#000" stroke-width="0.75"/>
<polygon points="315.50,158.80 317.00,160.30 315.50,161.80 314.00,160.30" fill="#fff" stroke="#000" stroke-width="0.75"/>
<polygon points="319.00,159.00 320.50,160.50 319.00,162.00 317.50,160.50" fill="#fff" stroke="#000" stroke-width="0.75"/>
<polygon points="317.50,159.50 319.00,161.00 317.50,162.50 316.00,161.00" fill="#fff" stroke="#000" stroke-width="0.75"/>
<line x1="312.6" y1="157.6" x2="321" y2="157.6" stroke="#000" stroke-width="1.0" />
<polygon points="331.20,108.30 333.20,110.30 331.20,112.30 329.20,110.30" fill="#000" stroke="none" stroke-width="0"/>
<polygon points="331.20,123.60 333.20,125.60 331.20,127.60 329.20,125.60" fill="#000" stroke="none" stroke-width="0"/>
<polygon points="331.20,130.10 333.20,132.10 331.20,134.10 329.20,132.10" fill="#000" stroke="none" stroke-width="0"/>
<polygon points="330.00,144.50 332.00,146.50 330.00,148.50 328.00,146.50" fill="#000" stroke="none" stroke-width="0"/>
<polygon points="332.00,146.00 334.00,148.00 332.00,150.00 330.00,148.00" fill="#000" stroke="none" stroke-width="0"/>
<line x1="326.4" y1="132.1" x2="336.6" y2="132.1" stroke="#000" stroke-width="1.0" />
<polygon points="344.60,104.00 346.60,106.00 344.60,108.00 342.60,106.00" fill="#8c8c8c" stroke="none" stroke-width="0"/>
<polygon points="341.50,114.10 343.50,116.10 341.50,118.10 339.50,116.10" fill="#8c8c8c" stroke="none" stroke-width="0"/>
<polygon points="347.00,114.10 349.00,116.10 347.00,118.10 345.00,116.10" fill="#8c8c8c" stroke="none" stroke-width="0"/>
<polygon points="344.60,130.10 346.60,132.10 344.60,134.10 342.60,132.10" fill="#8c8c8c" stroke="none" stroke-width="0"/>
<polygon points="344.60,141.00 346.60,143.00 344.60,145.00 342.60,143.00" fill="#8c8c8c" stroke="none" stroke-width="0"/>
<line x1="338.8" y1="122.2" x2="349" y2="122.2" stroke="#000" stroke-width="1.0" />
<polygon points="354.30,112.00 355.80,113.50 354.30,115.00 352.80,113.50" fill="#fff" stroke="#000" stroke-width="0.75"/>
<polygon points="354.30,135.00 355.80,136.50 354.30,138.00 352.80,136.50" fill="#fff" stroke="#000" stroke-width="0.75"/>
<polygon points="354.30,140.80 355.80,142.30 354.30,143.80 352.80,142.30" fill="#fff" stroke="#000" stroke-width="0.75"/>
<polygon points="354.30,150.90 355.80,152.40 354.30,153.90 352.80,152.40" fill="#fff" stroke="#000" stroke-width="0.75"/>
<polygon points="354.30,156.30 355.80,157.80 354.30,159.30 352.80,157.80" fill="#fff" stroke="#000" stroke-width="0.75"/>
<line x1="348.2" y1="140.5" x2="359" y2="140.5" stroke="#000" stroke-width="1.0" />
<polygon points="366.70,109.00 368.70,111.00 366.70,113.00 364.70,111.00" fill="#000" stroke="none" stroke-width="0"/>
<polygon points="366.70,120.20 368.70,122.20 366.70,124.20 364.70,122.20" fill="#000" stroke="none" stroke-width="0"/>
<polygon points="368.50,123.10 370.50,125.10 368.50,127.10 366.50,125.10" fill="#000" stroke="none" stroke-width="0"/>
<polygon points="366.70,127.20 368.70,129.20 366.70,131.20 364.70,129.20" fill="#000" stroke="none" stroke-width="0"/>
<polygon points="366.70,133.70 368.70,135.70 366.70,137.70 364.70,135.70" fill="#000" stroke="none" stroke-width="0"/>
<line x1="361.3" y1="124.6" x2="371.2" y2="124.6" stroke="#000" stroke-width="1.0" />
<polygon points="380.50,103.50 382.50,105.50 380.50,107.50 378.50,105.50" fill="#8c8c8c" stroke="none" stroke-width="0"/>
<polygon points="378.50,108.00 380.50,110.00 378.50,112.00 376.50,110.00" fill="#8c8c8c" stroke="none" stroke-width="0"/>
<polygon points="380.50,113.40 382.50,115.40 380.50,117.40 378.50,115.40" fill="#8c8c8c" stroke="none" stroke-width="0"/>
<polygon points="379.90,118.80 381.90,120.80 379.90,122.80 377.90,120.80" fill="#8c8c8c" stroke="none" stroke-width="0"/>
<line x1="374.4" y1="113.2" x2="384.5" y2="113.2" stroke="#000" stroke-width="1.0" />
<polygon points="389.60,110.50 391.10,112.00 389.60,113.50 388.10,112.00" fill="#fff" stroke="#000" stroke-width="0.75"/>
<polygon points="389.60,135.00 391.10,136.50 389.60,138.00 388.10,136.50" fill="#fff" stroke="#000" stroke-width="0.75"/>
<polygon points="390.50,137.10 392.00,138.60 390.50,140.10 389.00,138.60" fill="#fff" stroke="#000" stroke-width="0.75"/>
<polygon points="389.60,139.30 391.10,140.80 389.60,142.30 388.10,140.80" fill="#fff" stroke="#000" stroke-width="0.75"/>
<line x1="383.8" y1="131.4" x2="393.3" y2="131.4" stroke="#000" stroke-width="1.0" />
<polygon points="300.00,169.90 301.80,171.70 300.00,173.50 298.20,171.70" fill="#000" stroke="none" stroke-width="0"/>
<text transform="translate(302.9,174.4) scale(1,1.22)" font-size="7.8" text-anchor="start" font-weight="bold"  letter-spacing="0.22">Total cells</text>
<polygon points="300.00,179.50 301.80,181.30 300.00,183.10 298.20,181.30" fill="#8c8c8c" stroke="none" stroke-width="0"/>
<text transform="translate(302.9,183.9) scale(1,1.22)" font-size="7.8" text-anchor="start" font-weight="bold"  letter-spacing="0.22">PD-1<tspan baseline-shift="2.2" font-size="5">+</tspan></text>
<polygon points="300.00,188.70 301.50,190.20 300.00,191.70 298.50,190.20" fill="#fff" stroke="#000" stroke-width="0.75"/>
<text transform="translate(302.9,192.6) scale(1,1.22)" font-size="7.8" text-anchor="start" font-weight="bold"  letter-spacing="0.22">PD-1<tspan baseline-shift="2.2" font-size="5">-</tspan></text>
<text transform="translate(410.2,120.9) rotate(-90) scale(1,1.02)" font-size="8.3" text-anchor="middle" font-weight="bold">% of Vivid<tspan baseline-shift="2.2" font-size="5">-</tspan>Annexin V<tspan baseline-shift="2.2" font-size="5">+</tspan>CD8<tspan baseline-shift="2.2" font-size="5">+</tspan> T cells</text>
<line x1="428.1" y1="67.3" x2="428.1" y2="112.7" stroke="#000" stroke-width="1.4" />
<line x1="427.5" y1="112.2" x2="499.2" y2="112.2" stroke="#000" stroke-width="1.4" />
<line x1="426.3" y1="67.8" x2="428.1" y2="67.8" stroke="#000" stroke-width="1.0" />
<text transform="translate(425.90000000000003,70.39999999999999) scale(1,1.02)" font-size="7.4" text-anchor="end" font-weight="bold"  letter-spacing="0.22">40</text>
<line x1="426.3" y1="78.9" x2="428.1" y2="78.9" stroke="#000" stroke-width="1.0" />
<text transform="translate(425.90000000000003,81.5) scale(1,1.02)" font-size="7.4" text-anchor="end" font-weight="bold"  letter-spacing="0.22">30</text>
<line x1="426.3" y1="90.0" x2="428.1" y2="90.0" stroke="#000" stroke-width="1.0" />
<text transform="translate(425.90000000000003,92.6) scale(1,1.02)" font-size="7.4" text-anchor="end" font-weight="bold"  letter-spacing="0.22">20</text>
<line x1="426.3" y1="101.1" x2="428.1" y2="101.1" stroke="#000" stroke-width="1.0" />
<text transform="translate(425.90000000000003,103.69999999999999) scale(1,1.02)" font-size="7.4" text-anchor="end" font-weight="bold"  letter-spacing="0.22">10</text>
<line x1="426.3" y1="112.2" x2="428.1" y2="112.2" stroke="#000" stroke-width="1.0" />
<text transform="translate(425.90000000000003,114.8) scale(1,1.02)" font-size="7.4" text-anchor="end" font-weight="bold"  letter-spacing="0.22">0</text>
<line x1="426.90000000000003" y1="73.35" x2="428.1" y2="73.35" stroke="#000" stroke-width="0.8" />
<line x1="426.90000000000003" y1="84.45" x2="428.1" y2="84.45" stroke="#000" stroke-width="0.8" />
<line x1="426.90000000000003" y1="95.55" x2="428.1" y2="95.55" stroke="#000" stroke-width="0.8" />
<line x1="426.90000000000003" y1="106.65" x2="428.1" y2="106.65" stroke="#000" stroke-width="0.8" />
<text transform="translate(465,65.8) scale(1,1.02)" font-size="7.6" text-anchor="middle" font-weight="bold"  letter-spacing="0.22">CM9<tspan baseline-shift="2.2" font-size="5">+</tspan>CD8<tspan baseline-shift="2.2" font-size="5">+</tspan>T cells</text>
<line x1="436.4" y1="93.4" x2="436.4" y2="102" stroke="#000" stroke-width="0.8" />
<line x1="434.9" y1="93.4" x2="437.9" y2="93.4" stroke="#000" stroke-width="0.8" />
<line x1="434.9" y1="102" x2="437.9" y2="102" stroke="#000" stroke-width="0.8" />
<line x1="454.4" y1="73" x2="454.4" y2="87" stroke="#000" stroke-width="0.8" />
<line x1="452.9" y1="73" x2="455.9" y2="73" stroke="#000" stroke-width="0.8" />
<line x1="452.9" y1="87" x2="455.9" y2="87" stroke="#000" stroke-width="0.8" />
<line x1="472.5" y1="95" x2="472.5" y2="99.6" stroke="#000" stroke-width="0.8" />
<line x1="471.0" y1="95" x2="474.0" y2="95" stroke="#000" stroke-width="0.8" />
<line x1="471.0" y1="99.6" x2="474.0" y2="99.6" stroke="#000" stroke-width="0.8" />
<line x1="490.4" y1="90.4" x2="490.4" y2="93.8" stroke="#000" stroke-width="0.8" />
<line x1="488.9" y1="90.4" x2="491.9" y2="90.4" stroke="#000" stroke-width="0.8" />
<line x1="488.9" y1="93.8" x2="491.9" y2="93.8" stroke="#000" stroke-width="0.8" />
<line x1="436.4" y1="93" x2="436.4" y2="108.8" stroke="#000" stroke-width="0.8" />
<line x1="434.9" y1="93" x2="437.9" y2="93" stroke="#000" stroke-width="0.8" />
<line x1="434.9" y1="108.8" x2="437.9" y2="108.8" stroke="#000" stroke-width="0.8" />
<line x1="454.4" y1="94.3" x2="454.4" y2="106.5" stroke="#000" stroke-width="0.8" />
<line x1="452.9" y1="94.3" x2="455.9" y2="94.3" stroke="#000" stroke-width="0.8" />
<line x1="452.9" y1="106.5" x2="455.9" y2="106.5" stroke="#000" stroke-width="0.8" />
<line x1="472.5" y1="96" x2="472.5" y2="106.5" stroke="#000" stroke-width="0.8" />
<line x1="471.0" y1="96" x2="474.0" y2="96" stroke="#000" stroke-width="0.8" />
<line x1="471.0" y1="106.5" x2="474.0" y2="106.5" stroke="#000" stroke-width="0.8" />
<line x1="490.4" y1="95" x2="490.4" y2="102" stroke="#000" stroke-width="0.8" />
<line x1="488.9" y1="95" x2="491.9" y2="95" stroke="#000" stroke-width="0.8" />
<line x1="488.9" y1="102" x2="491.9" y2="102" stroke="#000" stroke-width="0.8" />
<polyline points="436.4,98 454.4,80 472.5,98 490.4,91.5" fill="none" stroke="#000" stroke-width="1.6"/>
<polyline points="436.4,103.8 454.4,100.3 472.5,102.6 490.4,99" fill="none" stroke="#000" stroke-width="1.4" stroke-dasharray="1.4,1.2"/>
<line x1="428.1" y1="127.5" x2="428.1" y2="173.5" stroke="#000" stroke-width="1.4" />
<line x1="427.5" y1="173" x2="499.2" y2="173" stroke="#000" stroke-width="1.4" />
<line x1="426.3" y1="128.0" x2="428.1" y2="128.0" stroke="#000" stroke-width="1.0" />
<text transform="translate(425.90000000000003,130.6) scale(1,1.02)" font-size="7.4" text-anchor="end" font-weight="bold"  letter-spacing="0.22">40</text>
<line x1="426.3" y1="139.25" x2="428.1" y2="139.25" stroke="#000" stroke-width="1.0" />
<text transform="translate(425.90000000000003,141.85) scale(1,1.02)" font-size="7.4" text-anchor="end" font-weight="bold"  letter-spacing="0.22">30</text>
<line x1="426.3" y1="150.5" x2="428.1" y2="150.5" stroke="#000" stroke-width="1.0" />
<text transform="translate(425.90000000000003,153.1) scale(1,1.02)" font-size="7.4" text-anchor="end" font-weight="bold"  letter-spacing="0.22">20</text>
<line x1="426.3" y1="161.75" x2="428.1" y2="161.75" stroke="#000" stroke-width="1.0" />
<text transform="translate(425.90000000000003,164.35) scale(1,1.02)" font-size="7.4" text-anchor="end" font-weight="bold"  letter-spacing="0.22">10</text>
<line x1="426.3" y1="173.0" x2="428.1" y2="173.0" stroke="#000" stroke-width="1.0" />
<text transform="translate(425.90000000000003,175.6) scale(1,1.02)" font-size="7.4" text-anchor="end" font-weight="bold"  letter-spacing="0.22">0</text>
<line x1="426.90000000000003" y1="133.625" x2="428.1" y2="133.625" stroke="#000" stroke-width="0.8" />
<line x1="426.90000000000003" y1="144.875" x2="428.1" y2="144.875" stroke="#000" stroke-width="0.8" />
<line x1="426.90000000000003" y1="156.125" x2="428.1" y2="156.125" stroke="#000" stroke-width="0.8" />
<line x1="426.90000000000003" y1="167.375" x2="428.1" y2="167.375" stroke="#000" stroke-width="0.8" />
<text transform="translate(462,130.6) scale(1,1.02)" font-size="7.6" text-anchor="middle" font-weight="bold"  letter-spacing="0.22">TL8<tspan baseline-shift="2.2" font-size="5">+</tspan>CD8<tspan baseline-shift="2.2" font-size="5">+</tspan>T cells</text>
<line x1="436.4" y1="153.5" x2="436.4" y2="157" stroke="#000" stroke-width="0.8" />
<line x1="434.9" y1="153.5" x2="437.9" y2="153.5" stroke="#000" stroke-width="0.8" />
<line x1="434.9" y1="157" x2="437.9" y2="157" stroke="#000" stroke-width="0.8" />
<line x1="454.4" y1="149" x2="454.4" y2="156" stroke="#000" stroke-width="0.8" />
<line x1="452.9" y1="149" x2="455.9" y2="149" stroke="#000" stroke-width="0.8" />
<line x1="452.9" y1="156" x2="455.9" y2="156" stroke="#000" stroke-width="0.8" />
<line x1="472.5" y1="154" x2="472.5" y2="159.5" stroke="#000" stroke-width="0.8" />
<line x1="471.0" y1="154" x2="474.0" y2="154" stroke="#000" stroke-width="0.8" />
<line x1="471.0" y1="159.5" x2="474.0" y2="159.5" stroke="#000" stroke-width="0.8" />
<line x1="490.4" y1="159.5" x2="490.4" y2="165" stroke="#000" stroke-width="0.8" />
<line x1="488.9" y1="159.5" x2="491.9" y2="159.5" stroke="#000" stroke-width="0.8" />
<line x1="488.9" y1="165" x2="491.9" y2="165" stroke="#000" stroke-width="0.8" />
<line x1="436.4" y1="170" x2="436.4" y2="172.5" stroke="#000" stroke-width="0.8" />
<line x1="434.9" y1="170" x2="437.9" y2="170" stroke="#000" stroke-width="0.8" />
<line x1="434.9" y1="172.5" x2="437.9" y2="172.5" stroke="#000" stroke-width="0.8" />
<line x1="454.4" y1="155" x2="454.4" y2="166" stroke="#000" stroke-width="0.8" />
<line x1="452.9" y1="155" x2="455.9" y2="155" stroke="#000" stroke-width="0.8" />
<line x1="452.9" y1="166" x2="455.9" y2="166" stroke="#000" stroke-width="0.8" />
<line x1="472.5" y1="163" x2="472.5" y2="168.5" stroke="#000" stroke-width="0.8" />
<line x1="471.0" y1="163" x2="474.0" y2="163" stroke="#000" stroke-width="0.8" />
<line x1="471.0" y1="168.5" x2="474.0" y2="168.5" stroke="#000" stroke-width="0.8" />
<line x1="490.4" y1="165.5" x2="490.4" y2="171.5" stroke="#000" stroke-width="0.8" />
<line x1="488.9" y1="165.5" x2="491.9" y2="165.5" stroke="#000" stroke-width="0.8" />
<line x1="488.9" y1="171.5" x2="491.9" y2="171.5" stroke="#000" stroke-width="0.8" />
<polyline points="436.4,155.2 454.4,151.3 472.5,156.9 490.4,162.4" fill="none" stroke="#000" stroke-width="1.6"/>
<polyline points="436.4,171.3 454.4,160.5 472.5,165.8 490.4,168.9" fill="none" stroke="#000" stroke-width="1.4" stroke-dasharray="1.4,1.2"/>
<text transform="translate(436.7,182.6) scale(1,1.02)" font-size="7.6" text-anchor="middle" font-weight="bold" letter-spacing="0.4" letter-spacing="0.22">2w</text>
<text transform="translate(454.7,182.6) scale(1,1.02)" font-size="7.6" text-anchor="middle" font-weight="bold" letter-spacing="0.4" letter-spacing="0.22">4w</text>
<text transform="translate(472.7,182.6) scale(1,1.02)" font-size="7.6" text-anchor="middle" font-weight="bold" letter-spacing="0.4" letter-spacing="0.22">8w</text>
<text transform="translate(490.7,182.6) scale(1,1.02)" font-size="7.6" text-anchor="middle" font-weight="bold" letter-spacing="0.4" letter-spacing="0.22">12w</text>
<text transform="translate(506.8,182.6) scale(1,1.02)" font-size="7.6" text-anchor="start" font-weight="bold"  letter-spacing="0.22">p.i.</text>
<line x1="442.7" y1="196.3" x2="456.5" y2="196.3" stroke="#000" stroke-width="1.2" />
<text transform="translate(460.4,198.4) scale(1,1.02)" font-size="7.6" text-anchor="start" font-weight="bold"  letter-spacing="0.22">PD-1<tspan dx="0.6" baseline-shift="1.5" font-size="4.9" letter-spacing="0.05" style="stroke-width:0.1px">high</tspan></text>
<line x1="442.7" y1="204.6" x2="456.5" y2="204.6" stroke="#777" stroke-width="1.2" stroke-dasharray="1.2,1.0"/>
<text transform="translate(460.4,207.3) scale(1,1.02)" font-size="7.6" text-anchor="start" font-weight="bold"  letter-spacing="0.22">PD-1<tspan dx="0.6" baseline-shift="1.5" font-size="4.9" letter-spacing="0.05" style="stroke-width:0.1px">low</tspan></text>
<text transform="translate(0.6,344.9) scale(1,1.0)" font-size="19.5" text-anchor="start" font-weight="bold" >B</text>
<text transform="translate(70.6,383.4) scale(1,1.02)" font-size="7.8" text-anchor="middle" font-weight="bold"  letter-spacing="0.22">Annexin V<tspan baseline-shift="2.2" font-size="5">-</tspan> CM9<tspan baseline-shift="2.2" font-size="5">+</tspan></text>
<text transform="translate(70.9,392.8) scale(1,1.02)" font-size="7.8" text-anchor="middle" font-weight="bold"  letter-spacing="0.22">CD8<tspan baseline-shift="2.2" font-size="5">+</tspan> T cells (Day 6)</text>
<polygon points="83.54,474.24 84.93,466.16 85.85,456.93 86.78,445.39 87.70,441.93 88.62,445.39 89.55,459.24 90.47,468.47 91.39,474.24" fill="#b8b8b8"/>
<polyline points="32.31,474.24 34.62,466.16 36.00,452.31 36.93,443.08 38.08,429.23 39.23,426.93 40.16,422.31 41.08,410.77 42.00,403.85 42.93,413.08 43.85,431.54 45.00,436.16 46.16,435.00 47.31,443.08 48.47,452.31 49.62,450.00 50.77,454.62 53.08,459.24 55.39,452.31 56.54,456.93 57.70,459.24 58.85,454.62 60.00,453.47 62.31,456.93 64.62,459.24 66.93,462.70 69.24,463.85 73.85,466.16 78.47,468.47 80.78,471.24 83.08,471.93 84.24,463.85 85.39,450.00 86.55,441.93 87.70,445.39 88.85,459.24 90.01,473.08 91.16,474.24" fill="none" stroke="#d2203f" stroke-width="1.5" stroke-linejoin="round"/>
<polyline points="36.93,473.54 39.23,468.47 41.54,463.85 42.70,452.31 43.85,446.54 45.00,452.31 46.16,459.24 47.31,463.85 48.47,461.54 49.62,447.70 50.77,424.62 51.93,410.77 53.08,415.39 54.23,431.54 55.39,443.08 56.54,447.70 57.70,438.47 58.85,443.08 60.00,454.62 61.16,459.24 62.31,454.62 63.47,436.16 64.62,420.00 65.77,408.46 66.93,403.85 68.08,408.46 69.24,424.62 70.39,443.08 71.54,456.93 72.70,459.24 73.85,450.00 75.01,436.16 76.16,445.39 77.31,452.31 78.47,443.08 79.62,450.00 80.78,454.62 81.93,443.08 83.08,431.54 84.24,420.00 85.39,413.08 86.55,417.69 87.70,436.16 88.85,447.70 90.01,459.24 91.16,468.47 92.31,472.62 96.93,473.54" fill="none" stroke="#3daa2f" stroke-width="1.5" stroke-linejoin="round"/>
<polyline points="31.16,473.78 41.54,473.31 50.77,473.08 60.00,473.31 69.24,472.85 78.47,473.08 81.93,472.62 83.54,466.16 84.93,447.70 85.85,424.62 86.78,408.46 87.47,403.39 88.16,403.85 88.85,422.31 89.78,450.00 90.93,468.47 92.31,473.54 105.01,473.78" fill="none" stroke="#000" stroke-width="1.3" stroke-linejoin="round"/>
<rect x="30" y="398.8" width="76.20" height="75.40" fill="none" stroke="#000" stroke-width="1.4"/>
<text transform="translate(24.3,432.7) rotate(-90) scale(1,1.02)" font-size="7.8" text-anchor="middle" font-weight="bold"  letter-spacing="0.11">% of Max</text>
<text transform="translate(69.5,484.8) scale(1,1.02)" font-size="7.8" text-anchor="middle" font-weight="bold"  letter-spacing="0.22">CFSE</text>
<text transform="translate(165.8,384.4) scale(1,1.02)" font-size="7.8" text-anchor="middle" font-weight="bold"  letter-spacing="0.22">CM9<tspan baseline-shift="2.2" font-size="5">+</tspan> CD8<tspan baseline-shift="2.2" font-size="5">+</tspan> T cells</text>
<text transform="translate(166.7,393.4) scale(1,1.02)" font-size="7.8" text-anchor="middle" font-weight="bold"  letter-spacing="0.22">(Day 6)</text>
<polygon points="129.79,473.31 130.97,430.82 132.15,411.94 133.33,407.21 134.51,404.85 135.69,409.58 136.87,421.38 138.05,430.82 140.41,440.26 142.77,442.63 145.13,437.90 147.49,442.63 149.85,440.26 152.21,444.99 154.58,454.43 156.94,463.87 159.30,468.59 164.02,469.77 171.10,470.95 185.26,467.41 189.99,469.77 199.43,472.13 205.33,473.31" fill="#c4c4c4"/>
<polyline points="129.79,470.95 133.33,469.77 140.41,467.41 147.49,466.23 152.21,463.87 154.58,461.51 156.94,459.15 161.66,456.79 166.38,454.43 168.74,447.35 171.10,430.82 173.46,416.66 174.64,404.85 175.82,402.49 177.00,409.58 178.18,416.66 179.36,407.21 180.54,402.49 181.72,411.94 182.90,421.38 185.26,430.82 187.63,435.54 189.99,442.63 192.35,447.35 194.71,452.07 197.07,459.15 199.43,468.59 201.79,470.95 205.33,472.13" fill="none" stroke="#3daa2f" stroke-width="1.5" stroke-linejoin="round"/>
<polyline points="129.79,466.23 130.97,459.15 133.33,454.43 135.69,449.71 138.05,440.26 140.41,430.82 142.77,437.90 143.95,428.46 145.13,433.18 147.49,428.46 149.85,430.82 152.21,419.02 154.58,414.30 156.94,421.38 159.30,411.94 160.48,407.21 161.66,409.58 162.84,430.82 164.02,435.54 166.38,428.46 168.74,433.18 171.10,426.10 173.46,411.94 175.82,414.30 178.18,407.21 180.07,403.67 181.72,414.30 182.90,423.74 185.26,430.82 187.63,426.10 188.81,430.82 189.99,433.18 192.35,430.82 193.53,435.54 194.71,442.63 197.07,452.07 199.43,463.87 201.79,470.95 205.33,472.13" fill="none" stroke="#d2203f" stroke-width="1.5" stroke-linejoin="round"/>
<polyline points="129.79,470.95 130.97,454.43 132.15,421.38 133.33,419.02 134.51,423.74 135.69,416.66 136.87,409.58 138.05,404.85 139.23,419.02 140.41,411.94 141.59,407.21 142.77,419.02 143.95,411.94 145.13,404.85 146.31,402.49 147.49,419.02 148.67,407.21 149.85,403.67 151.03,414.30 152.21,407.21 153.39,419.02 154.58,407.21 155.76,430.82 156.94,440.26 159.30,444.99 161.66,442.63 164.02,449.71 166.38,454.43 168.74,459.15 171.10,466.23 173.46,469.77 175.82,466.23 178.18,463.87 180.54,459.15 182.90,449.71 185.26,444.99 187.63,449.71 189.99,442.63 192.35,437.90 194.71,444.99 197.07,454.43 199.43,463.87 201.79,470.95 205.33,472.13" fill="none" stroke="#000" stroke-width="1.3" stroke-linejoin="round"/>
<rect x="129.3" y="398.2" width="76.00" height="75.10" fill="none" stroke="#000" stroke-width="1.4"/>
<text transform="translate(124.3,433.8) rotate(-90) scale(1,1.02)" font-size="7.8" text-anchor="middle" font-weight="bold"  letter-spacing="0.11">% of Max</text>
<text transform="translate(171.5,484.4) scale(1,1.02)" font-size="7.8" text-anchor="middle" font-weight="bold"  letter-spacing="0.22">Annexin V</text>
<text transform="translate(27.7,508.3) scale(1,1.02)" font-size="7.6" text-anchor="start" font-weight="bold"  letter-spacing="0.22">Filled</text>
<text transform="translate(55.8,508.3) scale(1,1.02)" font-size="7.6" text-anchor="start" font-weight="bold"  letter-spacing="0.22">No stimulation</text>
<line x1="28.8" y1="517.3" x2="47" y2="517.3" stroke="#000" stroke-width="1.3" />
<text transform="translate(55.8,519.8) scale(1,1.02)" font-size="7.6" text-anchor="start" font-weight="bold"  letter-spacing="0.22">aPD-1</text>
<line x1="28.8" y1="528.9" x2="47" y2="528.9" stroke="#d2203f" stroke-width="1.3" />
<text transform="translate(55.8,531.2) scale(1,1.02)" font-size="7.6" text-anchor="start" font-weight="bold"  letter-spacing="0.22">CM9-peptide</text>
<line x1="28.8" y1="539.8" x2="47" y2="539.8" stroke="#3daa2f" stroke-width="1.3" />
<text transform="translate(55.8,543.2) scale(1,1.02)" font-size="7.6" text-anchor="start" font-weight="bold"  letter-spacing="0.22">CM9-peptide + aPD-1</text>
<text transform="translate(305.9,352.1) scale(1,1.02)" font-size="7.8" text-anchor="middle" font-weight="bold"  letter-spacing="0.22">PD-1<tspan dx="0.6" baseline-shift="1.5" font-size="4.9" letter-spacing="0.05" style="stroke-width:0.1px">high</tspan> CM9<tspan baseline-shift="2.2" font-size="5">+</tspan></text>
<text transform="translate(306,361.4) scale(1,1.02)" font-size="7.8" text-anchor="middle" font-weight="bold"  letter-spacing="0.22">CD8<tspan baseline-shift="2.2" font-size="5">+</tspan> T cells (Day 6)</text>
<text transform="translate(398.3,352.1) scale(1,1.02)" font-size="7.8" text-anchor="middle" font-weight="bold"  letter-spacing="0.22">PD-1<tspan dx="0.6" baseline-shift="1.5" font-size="4.9" letter-spacing="0.05" style="stroke-width:0.1px">low</tspan> CM9<tspan baseline-shift="2.2" font-size="5">+</tspan></text>
<text transform="translate(398.3,361.4) scale(1,1.02)" font-size="7.8" text-anchor="middle" font-weight="bold"  letter-spacing="0.22">CD8<tspan baseline-shift="2.2" font-size="5">+</tspan> T cells (Day 6)</text>
<polyline points="272.93,441.49 275.44,435.23 277.53,431.05 279.62,428.97 281.70,427.92 283.79,428.97 285.88,437.32 287.97,435.23 290.06,439.41 292.15,435.23 294.23,439.41 296.32,433.14 297.37,418.52 298.41,414.35 299.45,422.70 300.50,428.97 302.59,433.14 304.67,424.79 306.76,422.70 307.81,420.61 308.85,426.88 310.94,433.14 313.03,431.05 315.11,428.97 317.20,426.88 319.29,433.14 321.38,435.23 323.47,428.97 325.56,422.70 327.64,418.52 329.73,414.35 331.82,406.00 332.86,393.47 333.91,385.11 334.95,379.89 336.00,389.29 337.04,418.52 338.08,435.23 340.17,433.14 342.26,439.41 343.30,443.58" fill="none" stroke="#000" stroke-width="1.4" stroke-dasharray="1.4,1.0"/>
<polyline points="272.93,424.79 274.40,422.70 275.44,397.64 276.48,395.56 277.53,397.64 278.57,383.03 279.62,379.89 280.66,393.47 281.70,383.03 282.75,397.64 283.79,406.00 284.84,401.82 285.88,408.08 286.93,410.17 287.97,406.00 290.06,397.64 291.10,389.29 292.15,388.25 293.19,393.47 294.23,408.08 295.28,415.39 296.32,416.44 298.41,414.35 299.45,408.08 300.50,407.04 301.54,416.44 302.59,422.70 303.63,426.88 304.67,428.97 306.76,433.14 308.85,437.32 310.94,442.54 313.03,439.41 315.11,440.45 317.20,442.54 319.29,441.49 321.38,437.32 323.47,431.05 325.56,422.70 326.60,416.44 327.64,415.39 328.69,418.52 329.73,431.05 331.82,435.23 332.86,424.79 333.91,431.05 336.00,441.49 337.04,439.41 338.08,435.23 340.17,437.32 342.26,441.49 343.30,443.58" fill="none" stroke="#000" stroke-width="1.6" stroke-linejoin="round"/>
<rect x="272.3" y="375.1" width="71.00" height="69.50" fill="none" stroke="#000" stroke-width="1.4"/>
<polyline points="365.86,435.23 367.53,418.52 368.57,408.08 369.62,395.56 370.66,389.29 371.70,387.20 372.75,383.03 373.79,387.20 374.84,393.47 375.88,408.08 376.93,406.00 377.97,397.64 379.01,401.82 380.06,399.73 381.10,395.56 382.15,399.73 383.19,387.20 384.23,380.94 385.28,378.85 386.32,387.20 387.37,395.56 388.41,408.08 390.50,418.52 392.59,422.70 394.67,426.88 396.76,424.79 398.85,422.70 400.94,428.97 403.03,433.14 405.11,435.23 407.20,437.32 409.29,435.23 411.38,439.41 413.47,435.23 415.56,431.05 417.64,433.14 419.73,437.32 421.82,431.05 423.91,426.88 426.00,433.14 428.08,439.41 430.17,441.49 434.35,443.58" fill="none" stroke="#000" stroke-width="1.4" stroke-dasharray="1.4,1.0"/>
<polyline points="365.86,431.05 366.48,395.56 367.53,391.38 368.57,387.20 369.62,383.03 370.66,387.20 371.70,380.94 372.75,378.85 373.79,385.11 374.84,383.03 375.88,391.38 376.93,397.64 377.97,399.73 379.01,397.64 380.06,401.82 381.10,406.00 382.15,412.26 383.19,416.44 384.23,418.52 385.28,418.52 386.32,422.70 387.37,424.79 388.41,426.88 389.45,428.97 390.50,433.14 392.59,435.23 394.67,437.32 396.76,439.41 398.85,437.32 400.94,439.41 405.11,440.45 409.29,440.45 413.47,439.41 415.56,438.36 417.64,437.32 419.73,439.41 421.82,441.49 423.91,442.54 426.00,443.58 430.17,443.58 434.35,443.58" fill="none" stroke="#000" stroke-width="1.6" stroke-linejoin="round"/>
<rect x="365.4" y="375.7" width="70.00" height="68.50" fill="none" stroke="#000" stroke-width="1.4"/>
<line x1="439.5" y1="396.1" x2="453.9" y2="396.1" stroke="#000" stroke-width="1.5" />
<text transform="translate(457.7,398.0) scale(1,1.02)" font-size="7.6" text-anchor="start" font-weight="bold"  letter-spacing="0.22">No stimulation</text>
<line x1="439.5" y1="413.7" x2="456.8" y2="413.7" stroke="#000" stroke-width="1.4" stroke-dasharray="1.3,1.0"/>
<text transform="translate(457.7,416.2) scale(1,1.02)" font-size="7.6" text-anchor="start" font-weight="bold"  letter-spacing="0.22">aPD-1</text>
<polyline points="274.03,525.95 279.22,525.09 284.99,525.09 290.76,523.65 293.65,520.76 296.53,522.20 299.41,523.65 302.30,520.76 305.18,514.99 308.07,509.22 309.51,500.57 310.95,483.27 312.39,465.96 313.84,464.52 315.28,474.61 316.72,468.84 318.16,463.07 319.60,465.96 321.05,468.84 322.49,483.27 323.93,491.92 325.37,500.57 326.82,512.11 328.26,517.88 331.14,509.22 334.03,510.67 336.91,517.88 339.80,523.65 342.10,525.95" fill="none" stroke="#000" stroke-width="1.4" stroke-dasharray="1.4,1.0"/>
<polyline points="274.03,525.09 276.34,519.32 279.22,516.43 282.11,517.88 284.99,514.99 287.88,517.88 290.76,513.55 293.65,509.22 295.09,506.34 296.53,510.67 299.41,507.78 302.30,503.46 305.18,500.57 306.63,502.01 308.07,497.69 309.51,486.15 310.95,477.50 312.39,468.84 313.84,476.05 315.28,480.38 316.72,474.61 318.16,461.63 319.60,460.19 321.05,477.50 322.49,497.69 323.93,509.22 325.37,516.43 328.26,517.88 331.14,517.30 334.03,519.32 336.91,522.20 339.80,525.09 342.10,525.95" fill="none" stroke="#000" stroke-width="1.5" stroke-linejoin="round"/>
<rect x="272.9" y="455.9" width="69.80" height="70.10" fill="none" stroke="#000" stroke-width="1.4"/>
<polyline points="366.35,525.00 369.61,518.46 372.88,518.46 376.15,520.09 379.42,511.92 382.69,508.65 384.32,515.19 385.96,518.46 387.59,520.09 389.23,502.11 390.86,498.84 392.50,495.57 394.13,505.38 395.77,498.84 399.04,508.65 402.30,505.38 405.57,498.84 407.21,502.11 408.84,505.38 412.11,489.04 413.75,498.84 415.38,492.30 417.02,505.38 418.65,489.04 420.28,475.96 421.92,459.61 423.55,466.15 425.19,479.23 426.82,505.38 428.46,521.73 435.00,525.00" fill="none" stroke="#000" stroke-width="1.4" stroke-dasharray="1.4,1.0"/>
<polyline points="366.35,521.73 367.98,511.92 369.61,508.65 371.25,505.38 372.88,495.57 374.52,482.50 376.15,480.86 377.79,484.13 379.42,479.23 381.06,489.04 382.69,472.69 384.32,469.42 385.96,482.50 387.59,466.15 389.23,479.23 390.86,462.88 392.50,461.25 394.13,475.96 395.77,495.57 397.40,498.84 399.04,505.38 400.67,510.28 402.30,515.19 403.94,511.92 405.57,505.38 407.21,508.65 408.84,503.75 410.48,510.28 412.11,508.65 413.75,505.38 415.38,502.11 417.02,492.30 418.65,485.77 420.28,479.23 421.92,495.57 423.55,482.50 425.19,492.30 426.82,505.38 428.46,518.46 431.73,523.36 435.00,525.00" fill="none" stroke="#000" stroke-width="1.6" stroke-linejoin="round"/>
<rect x="365.4" y="456.3" width="70.20" height="70.30" fill="none" stroke="#000" stroke-width="1.4"/>
<line x1="443.8" y1="479.2" x2="456.9" y2="479.2" stroke="#000" stroke-width="1.5" />
<text transform="translate(460.2,480.5) scale(1,1.02)" font-size="7.6" text-anchor="start" font-weight="bold"  letter-spacing="0.22">CM9-peptide</text>
<line x1="443.8" y1="501.5" x2="457.9" y2="501.5" stroke="#000" stroke-width="1.4" stroke-dasharray="1.3,1.0"/>
<text transform="translate(484.6,498.5) scale(1,1.02)" font-size="7.6" text-anchor="middle" font-weight="bold"  letter-spacing="0.22">CM9-peptide</text>
<text transform="translate(486.4,510.0) scale(1,1.02)" font-size="7.6" text-anchor="middle" font-weight="bold" letter-spacing="0.5" letter-spacing="0.22">+ aPD-1</text>
<line x1="246.1" y1="519.3" x2="246.1" y2="472" stroke="#333" stroke-width="0.9" />
<polygon points="242.3,473.5 246.1,466 249.8,473.5" fill="#000"/>
<text transform="translate(244,529.6) scale(1,1.02)" font-size="7.6" text-anchor="middle" font-weight="bold"  letter-spacing="0.22">% of Max</text>
<text transform="translate(291,547.9) scale(1,1.02)" font-size="7.6" text-anchor="middle" font-weight="bold"  letter-spacing="0.22">Annexin V</text>
<line x1="313.8" y1="545.3" x2="349" y2="545.3" stroke="#333" stroke-width="0.9" />
<polygon points="348.4,541 355.7,545.3 348.4,549.6" fill="#000"/>
</svg></body></html>
